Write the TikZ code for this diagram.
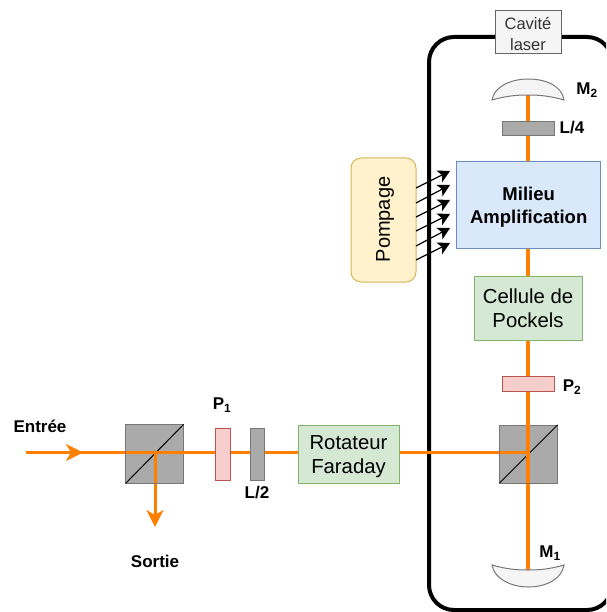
\documentclass[tikz,border=0pt]{standalone}
\usepackage{fontspec}
\setmainfont{Liberation Sans}
\usetikzlibrary{arrows.meta}
\definecolor{beam}{HTML}{FF8000}
\definecolor{greyf}{HTML}{AAAAAA}
\definecolor{greyd}{HTML}{777777}
\definecolor{redf}{HTML}{F8CECC}
\definecolor{redd}{HTML}{B85450}
\definecolor{greenf}{HTML}{D5E8D4}
\definecolor{greend}{HTML}{82B366}
\definecolor{bluef}{HTML}{DAE8FC}
\definecolor{blued}{HTML}{6C8EBF}
\definecolor{yellowf}{HTML}{FFF2CC}
\definecolor{yellowd}{HTML}{D6B656}
\definecolor{lightf}{HTML}{F5F5F5}
\definecolor{lightd}{HTML}{666666}
\definecolor{lightt}{HTML}{333333}
\tikzset{
  x=1pt,y=-1pt,
  box/.style={draw,line width=1pt,inner sep=0pt,outer sep=0pt,align=center,anchor=north west},
  grey/.style={box,fill=greyf,draw=greyd},
  pol/.style={box,fill=redf,draw=redd},
  greenbox/.style={box,fill=greenf,draw=greend,font=\fontsize{20.3}{24}\selectfont},
  lab/.style={font=\bfseries\fontsize{17}{20}\selectfont,inner sep=0pt},
  beamv/.style={draw=beam,line width=4pt},
  beamh/.style={draw=beam,line width=3pt},
  pumparrow/.style={draw=black,line width=1.2pt,-{Stealth[length=12pt,width=13pt,inset=3pt]}},
  mirror/.style={draw=greyd,fill=lightf,line width=1pt},
  head/.style={-{Stealth[length=17pt,width=17pt,inset=5pt]}}
}
\begin{document}
\begin{tikzpicture}
\useasboundingbox (0,0) rectangle (606,612);
\clip (0,0) rectangle (606,612);
% cavity frame
\draw[line width=4pt,rounded corners=25pt] (429,37) rectangle (612,610);
% named free ends
\coordinate (in) at (26,452.5);
\coordinate (inhead) at (83,452.5);
\coordinate (out) at (155,527);
\coordinate (split1) at (155,452.5);
\coordinate (split2) at (527.5,452.5);
\coordinate (m2c) at (527.5,95);
\coordinate (m1c) at (527.5,570);
% beams
\draw[beamv] (m2c) -- (m1c);
\draw[beamh] (in) -- (split2);
\draw[beamh,head] (in) -- (inhead);
\draw[beamh,head] (split1) -- (out);
% cubes
\node[grey,minimum width=58pt,minimum height=59pt] (cube1) at (125.7,424.3) {};
\node[grey,minimum width=58pt,minimum height=58pt] (cube2) at (499.5,425) {};
\draw[line width=1pt] (cube1.south west) -- (cube1.north east);
\draw[line width=1pt] (cube2.south west) -- (cube2.north east);
\draw[beamh] (cube1.west |- in) -- (cube1.east |- in);
\draw[beamh] (split1) -- (cube1.south -| split1);
\draw[beamh] (cube2.west |- split2) -- (split2);
\draw[beamv] (cube2.north -| m2c) -- (cube2.south -| m2c);
% optics
\node[pol,minimum width=15pt,minimum height=52pt] (p1) at (215,428) {};
\node[grey,minimum width=14pt,minimum height=52pt] (l2) at (250,428) {};
\node[greenbox,minimum width=101pt,minimum height=58pt] (far) at (298,425) {\rule{0pt}{19.5pt}Rotateur\\Faraday};
\node[pol,minimum width=52pt,minimum height=15pt] (p2) at (502.5,376) {};
\node[greenbox,minimum width=108pt,minimum height=64pt] (pock) at (474,276) {\rule{0pt}{16pt}Cellule de\\Pockels};
\node[box,fill=bluef,draw=blued,minimum width=144pt,minimum height=86pt,font=\bfseries\fontsize{18.5}{23}\selectfont] (mil) at (456.7,162) {\rule{0pt}{17.5pt}Milieu\\Amplification};
\node[grey,minimum width=52pt,minimum height=14pt] (l4) at (502.5,122) {};
\node[box,fill=yellowf,draw=yellowd,rounded corners=10pt,minimum width=65pt,minimum height=124pt] (pump) at (351,158) {};
\node[rotate=90,font=\fontsize{20}{22}\selectfont,inner sep=0pt] (pumptxt) at (385,219.5) {Pompage};
\node[box,fill=lightf,draw=lightd,text=lightt,minimum width=66pt,minimum height=43pt,font=\fontsize{16.5}{21}\selectfont] (cav) at (495,11) {\rule{0pt}{14.5pt}Cavité\\laser};
% pump arrows
\foreach \i/\a/\b in {1/188/171,2/203/185,3/217/200,4/231/214,5/246/228,6/260/243}{
  \coordinate (pa\i) at (pump.east |- 0,\a);
  \coordinate (pb\i) at (450,\b);
  \draw[pumparrow] (pa\i) -- (pb\i);
}
% mirrors
\draw[mirror] (492,100) .. controls (494,86) and (512,79) .. (528,79) .. controls (546,79) and (562,86) .. (564,100) .. controls (550,96) and (540,95) .. (528,95) .. controls (516,95) and (506,96) .. (492,100) -- cycle;
\draw[mirror] (492,565) .. controls (494,579) and (512,587) .. (528,587) .. controls (546,587) and (562,579) .. (564,565) .. controls (550,569) and (540,570) .. (528,570) .. controls (516,570) and (506,569) .. (492,565) -- cycle;
% labels
\node[lab] (tin) at (40,426) {Entrée};
\node[lab] (tout) at (155,561) {Sortie};
\node[lab] (tp1) at (222,405) {P\textsubscript{1}};
\node[lab] (tl2) at (257,493) {L/2};
\node[lab] (tp2) at (572,387) {P\textsubscript{2}};
\node[lab] (tl4) at (572,128) {L/4};
\node[lab] (tm2) at (587,90) {M\textsubscript{2}};
\node[lab] (tm1) at (550,553) {M\textsubscript{1}};
\end{tikzpicture}
\end{document}
